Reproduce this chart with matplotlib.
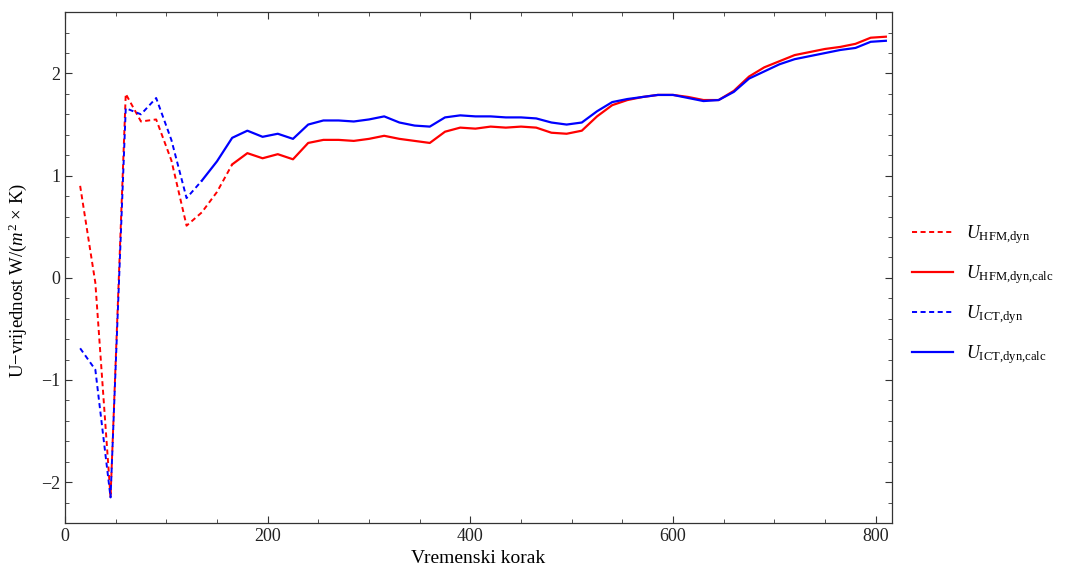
import matplotlib
matplotlib.use("Agg")
import matplotlib.pyplot as plt
from matplotlib.ticker import MultipleLocator

plt.rcParams['font.family'] = ['Liberation Serif', 'DejaVu Serif']
plt.rcParams['mathtext.fontset'] = 'custom'
plt.rcParams['mathtext.rm'] = 'Liberation Serif'
plt.rcParams['mathtext.it'] = 'Liberation Serif:italic'
plt.rcParams['mathtext.bf'] = 'Liberation Serif:bold'

steps = [15, 30, 45, 60, 75, 90, 105, 120, 135, 150, 165, 180, 195, 210, 225, 240,
         255, 270, 285, 300, 315, 330, 345, 360, 375, 390, 405, 420, 435, 450, 465,
         480, 495, 510, 525, 540, 555, 570, 585, 600, 615, 630, 645, 660, 675, 690,
         705, 720, 735, 750, 765, 780, 795, 810]

u_hfm = [0.90, -0.05, -2.15, 1.80, 1.53, 1.55, 1.15, 0.51, 0.64, 0.84, 1.11, 1.22,
         1.17, 1.21, 1.16, 1.32, 1.35, 1.35, 1.34, 1.36, 1.39, 1.36, 1.34, 1.32,
         1.43, 1.47, 1.46, 1.48, 1.47, 1.48, 1.47, 1.42, 1.41, 1.44, 1.58, 1.69,
         1.74, 1.77, 1.79, 1.79, 1.77, 1.74, 1.74, 1.83, 1.97, 2.06, 2.12, 2.18,
         2.21, 2.24, 2.26, 2.29, 2.35, 2.36]

u_ict = [-0.69, -0.90, -2.15, 1.66, 1.60, 1.76, 1.35, 0.78, 0.95, 1.14, 1.37, 1.44,
         1.38, 1.41, 1.36, 1.50, 1.54, 1.54, 1.53, 1.55, 1.58, 1.52, 1.49, 1.48,
         1.57, 1.59, 1.58, 1.58, 1.57, 1.57, 1.56, 1.52, 1.50, 1.52, 1.63, 1.72,
         1.75, 1.77, 1.79, 1.79, 1.76, 1.73, 1.74, 1.82, 1.95, 2.02, 2.09, 2.14,
         2.17, 2.20, 2.23, 2.25, 2.31, 2.32]

hfm_calc_start = 165   # first step of the calculated (solid) HFM series
ict_calc_start = 135   # first step of the calculated (solid) ICT series

labels = [r"$U_{\mathrm{HFM{,}dyn}}$", r"$U_{\mathrm{HFM{,}dyn{,}calc}}$",
          r"$U_{\mathrm{ICT{,}dyn}}$", r"$U_{\mathrm{ICT{,}dyn{,}calc}}$"]

i_h = steps.index(hfm_calc_start)
i_i = steps.index(ict_calc_start)

fig = plt.figure(figsize=(10.7, 5.8), dpi=100)
ax = fig.add_axes([0.0607, 0.0983, 0.7729, 0.8807])

dash = (0, (2.6, 1.8))
ax.plot(steps[:i_h + 1], u_hfm[:i_h + 1], color='#ff0000', lw=1.4, ls=dash, label=labels[0])
ax.plot(steps[i_h:], u_hfm[i_h:], color='#ff0000', lw=1.6, label=labels[1])
ax.plot(steps[:i_i + 1], u_ict[:i_i + 1], color='#0000ff', lw=1.4, ls=dash, label=labels[2])
ax.plot(steps[i_i:], u_ict[i_i:], color='#0000ff', lw=1.6, label=labels[3])

ax.set_xlim(0, 816)
ax.set_ylim(-2.4, 2.6)
ax.xaxis.set_major_locator(MultipleLocator(200))
ax.xaxis.set_minor_locator(MultipleLocator(50))
ax.yaxis.set_major_locator(MultipleLocator(1))
ax.yaxis.set_minor_locator(MultipleLocator(0.2))
ax.tick_params(which='both', direction='in', top=True, right=True, colors='#333333',
               labelcolor='#222222', labelsize=13)
ax.tick_params(which='major', length=5, width=0.8)
ax.tick_params(which='minor', length=3, width=0.6)
for s in ax.spines.values():
    s.set_color('#333333')
    s.set_linewidth(0.9)

ax.set_xlabel("Vremenski korak", fontsize=14, labelpad=4)
ax.set_ylabel(r"U$-$vrijednost W/($m^2$ × K)", fontsize=13.5)
ax.yaxis.set_label_coords(-0.043, 0.475)

leg = ax.legend(loc='center left', bbox_to_anchor=(1.004, 0.447), frameon=False,
                fontsize=13, handlelength=2.3, handletextpad=0.7, labelspacing=0.95)

fig.savefig("out.png", dpi=100)
